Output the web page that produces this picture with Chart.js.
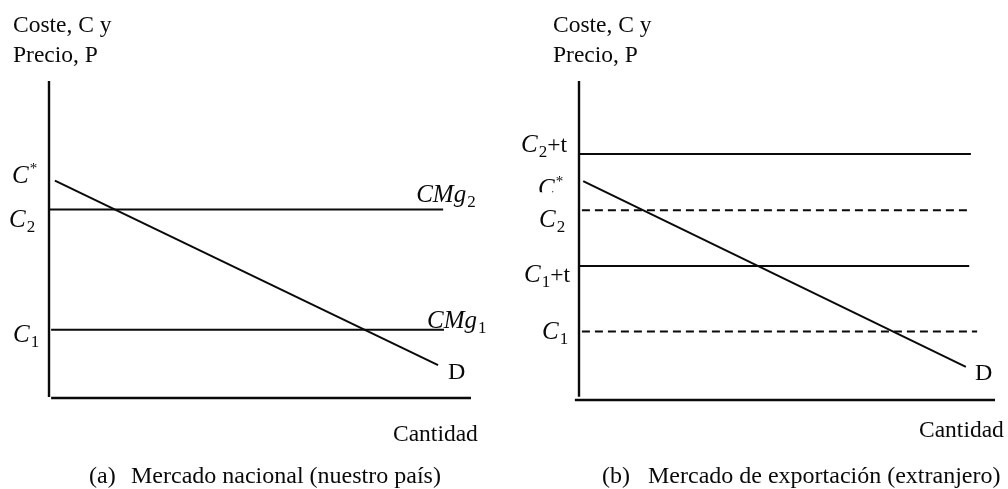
<!DOCTYPE html>
<html lang="es">
<head>
<meta charset="utf-8">
<title>Mercado nacional y mercado de exportación</title>
<script src="https://cdn.jsdelivr.net/npm/chart.js@4.4.1/dist/chart.umd.min.js"></script>
<style>
  html, body { margin: 0; padding: 0; background: #fff; }
  #lienzo { position: relative; width: 1008px; height: 489px; }
  .panel { position: absolute; top: 0; width: 504px; height: 489px; }
</style>
</head>
<body>
<div id="lienzo">
  <div class="panel" style="left:0"><canvas id="graficoA" width="504" height="489"></canvas></div>
  <div class="panel" style="left:504px"><canvas id="graficoB" width="504" height="489"></canvas></div>
</div>
<script>
// Cantidad y coste en una escala 0-100 en los dos paneles
const rangoCantidad = [0, 100];
const rangoCoste = [0, 100];

// (a) Mercado nacional: demanda D y costes marginales CMg2, CMg1
const demandaCantA = [1.4, 92.2];
const demandaPrecioA = [68.6, 10.4];
const costesA = [59.5, 21.5];
const costesInicioA = [0, 0.5];
const costesFinA = [93.4, 93.6];
const ejeVerticalA = [0.3, 100];
const ejeHorizontalA = [0.5, 100];

// (b) Mercado de exportación: C2+t, C2, C1+t, C1
const demandaCantB = [1.0, 93.0];
const demandaPrecioB = [68.6, 10.4];
const costesB = [77.1, 59.5, 42.0, 21.5];
const costesInicioB = [0, 0.7, 0, 0.7];
const costesFinB = [94.2, 94.2, 93.8, 95.7];
const ejeVerticalB = [1.0, 100];
const ejeHorizontalB = [-1.0, 100];

const NEGRO = '#0a0a0a';
const SERIF = '"Liberation Serif", "Times New Roman", serif';
const guionesB = [[], [8, 5], [], [8, 5]];

function linea(puntos, ancho, guion) {
  return {
    data: puntos,
    showLine: true,
    borderColor: NEGRO,
    borderWidth: ancho,
    borderDash: guion || [],
    pointRadius: 0,
    fill: false,
    clip: false
  };
}

function tramo(x0, x1, y0, y1) {
  return [{ x: x0, y: y0 }, { x: x1, y: y1 }];
}

function fuente(tipo) {
  if (tipo === 'it') return 'italic 25px ' + SERIF;
  if (tipo === 'sub') return '17px ' + SERIF;
  if (tipo === 'sup') return '15px ' + SERIF;
  if (tipo === 'pie') return '24px ' + SERIF;
  return '23.5px ' + SERIF;
}

// escribe texto con partes en cursiva, subíndice o superíndice
function escribir(ctx, x, y, partes) {
  let cx = x;
  partes.forEach(p => {
    ctx.font = fuente(p[1]);
    const dy = p[1] === 'sub' ? 5 : p[1] === 'sup' ? -10 : 0;
    ctx.fillText(p[0], cx, y + dy);
    cx += ctx.measureText(p[0]).width + (p[1] === 'it' ? 1 : 0);
  });
}

const rotulosPlugin = {
  id: 'rotulos',
  afterDraw(chart, args, opts) {
    const ctx = chart.ctx;
    const xs = chart.scales.x;
    const ys = chart.scales.y;
    const ejeX = xs.getPixelForValue(0);
    ctx.save();
    ctx.fillStyle = NEGRO;
    ctx.textBaseline = 'alphabetic';
    ctx.textAlign = 'left';
    (opts.fijos || []).forEach(r => escribir(ctx, r.x, r.y, r.partes));
    (opts.niveles || []).forEach(r => {
      const x = r.cant === undefined ? ejeX + r.dx : xs.getPixelForValue(r.cant) + r.dx;
      const y = ys.getPixelForValue(r.valor) + r.dy;
      ctx.save();
      if (r.corte !== undefined) {
        ctx.beginPath();
        ctx.rect(0, 0, chart.width, ys.getPixelForValue(r.valor) + r.corte);
        ctx.clip();
      }
      escribir(ctx, x, y, r.partes);
      ctx.restore();
    });
    ctx.restore();
  }
};

function crearPanel(id, datasets, padding, rotulos) {
  return new Chart(document.getElementById(id), {
    type: 'scatter',
    data: { datasets: datasets },
    options: {
      responsive: false,
      animation: false,
      events: [],
      layout: { padding: padding },
      scales: {
        x: { type: 'linear', min: rangoCantidad[0], max: rangoCantidad[1], display: false },
        y: { type: 'linear', min: rangoCoste[0], max: rangoCoste[1], display: false }
      },
      plugins: {
        legend: { display: false },
        tooltip: { enabled: false },
        rotulos: rotulos
      }
    },
    plugins: [rotulosPlugin]
  });
}

// Panel (a)
const seriesA = [
  linea(tramo(0, 0, ejeVerticalA[0], ejeVerticalA[1]), 2.4),
  linea(tramo(ejeHorizontalA[0], ejeHorizontalA[1], 0, 0), 2.4),
  linea(tramo(demandaCantA[0], demandaCantA[1], demandaPrecioA[0], demandaPrecioA[1]), 2)
];
costesA.forEach((c, i) => seriesA.push(linea(tramo(costesInicioA[i], costesFinA[i], c, c), 2)));

crearPanel('graficoA', seriesA, { left: 49, right: 33, top: 81, bottom: 91 }, {
  fijos: [
    { x: 13, y: 32, partes: [['Coste, C y', 'rm']] },
    { x: 13, y: 62, partes: [['Precio, P', 'rm']] },
    { x: 393, y: 441, partes: [['Cantidad', 'rm']] },
    { x: 89, y: 483, partes: [['(a)', 'pie']] },
    { x: 131, y: 483, partes: [['Mercado nacional (nuestro país)', 'pie']] }
  ],
  niveles: [
    { valor: demandaPrecioA[0], dx: -37, dy: 2, partes: [['C', 'it'], ['*', 'sup']] },
    { valor: costesA[0], dx: -40, dy: 18, partes: [['C', 'it'], ['2', 'sub']] },
    { valor: costesA[1], dx: -36, dy: 12, partes: [['C', 'it'], ['1', 'sub']] },
    { valor: costesA[0], cant: costesFinA[0], dx: -27, dy: -7, partes: [['CMg', 'it'], ['2', 'sub']] },
    { valor: costesA[1], cant: costesFinA[1], dx: -17, dy: -2, partes: [['CMg', 'it'], ['1', 'sub']] },
    { valor: demandaPrecioA[1], cant: demandaCantA[1], dx: 10, dy: 14, partes: [['D', 'pie']] }
  ]
});

// Panel (b)
const seriesB = [
  linea(tramo(0, 0, ejeVerticalB[0], ejeVerticalB[1]), 2.4),
  linea(tramo(ejeHorizontalB[0], ejeHorizontalB[1], 0, 0), 2.4),
  linea(tramo(demandaCantB[0], demandaCantB[1], demandaPrecioB[0], demandaPrecioB[1]), 2)
];
costesB.forEach((c, i) => seriesB.push(linea(tramo(costesInicioB[i], costesFinB[i], c, c), 2, guionesB[i])));

crearPanel('graficoB', seriesB, { left: 75, right: 13, top: 81, bottom: 89 }, {
  fijos: [
    { x: 49, y: 32, partes: [['Coste, C y', 'rm']] },
    { x: 49, y: 62, partes: [['Precio, P', 'rm']] },
    { x: 415, y: 437, partes: [['Cantidad', 'rm']] },
    { x: 98, y: 483, partes: [['(b)', 'pie']] },
    { x: 144, y: 483, partes: [['Mercado de exportación (extranjero)', 'pie']] }
  ],
  niveles: [
    { valor: costesB[0], dx: -58, dy: -2, partes: [['C', 'it'], ['2', 'sub'], ['+t', 'rm']] },
    { valor: demandaPrecioB[0], dx: -41, dy: 15, corte: 11, partes: [['C', 'it'], ['*', 'sup']] },
    { valor: costesB[1], dx: -40, dy: 17, partes: [['C', 'it'], ['2', 'sub']] },
    { valor: costesB[2], dx: -55, dy: 16, partes: [['C', 'it'], ['1', 'sub'], ['+t', 'rm']] },
    { valor: costesB[3], dx: -37, dy: 8, partes: [['C', 'it'], ['1', 'sub']] },
    { valor: demandaPrecioB[1], cant: demandaCantB[1], dx: 9, dy: 13, partes: [['D', 'pie']] }
  ]
});
</script>
</body>
</html>
